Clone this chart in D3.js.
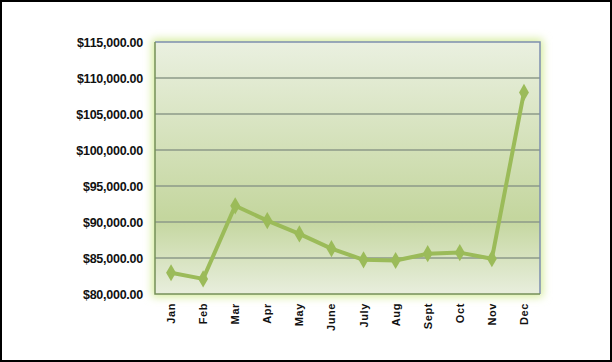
<!DOCTYPE html>
<html>
<head>
<meta charset="utf-8">
<script src="https://cdn.jsdelivr.net/npm/d3@7"></script>
<style>
  body { margin: 0; background: white; }
  svg { display: block; }
</style>
</head>
<body>
<div id="chart"></div>
<script>
const months = ["Jan", "Feb", "Mar", "Apr", "May", "June", "July", "Aug", "Sept", "Oct", "Nov", "Dec"];
const sales = [82950, 82100, 92250, 90200, 88350, 86300, 84750, 84650, 85600, 85750, 84900, 108000];
const yTicks = [80000, 85000, 90000, 95000, 100000, 105000, 110000, 115000];

const width = 612, height = 362;
const plot = { left: 155, right: 540, top: 42, bottom: 294 };

let svg = d3.select("#chart").append("svg")
  .attr("width", width)
  .attr("height", height);

// outer frame
svg.append("rect")
  .attr("x", 1).attr("y", 1)
  .attr("width", width - 2).attr("height", height - 2)
  .attr("fill", "white")
  .attr("stroke", "black")
  .attr("stroke-width", 2);

let defs = svg.append("defs");
let grad = defs.append("linearGradient")
  .attr("id", "bg").attr("x1", 0).attr("y1", 0).attr("x2", 0).attr("y2", 1);
grad.append("stop").attr("offset", "0%").attr("stop-color", "#eaf0e0");
grad.append("stop").attr("offset", "70%").attr("stop-color", "#c4d69e");
grad.append("stop").attr("offset", "100%").attr("stop-color", "#e8eedd");

let glow = defs.append("filter").attr("id", "glow")
  .attr("x", "-10%").attr("y", "-10%").attr("width", "120%").attr("height", "120%");
glow.append("feGaussianBlur").attr("stdDeviation", 4);

let x = d3.scaleBand()
  .domain(months)
  .range([plot.left, plot.right]);

let y = d3.scaleLinear()
  .domain([80000, 115000])
  .range([plot.bottom, plot.top]);

// soft glow round the plot area
svg.append("rect")
  .attr("x", plot.left - 3).attr("y", plot.top - 3)
  .attr("width", plot.right - plot.left + 6)
  .attr("height", plot.bottom - plot.top + 6)
  .attr("fill", "#d6ec9c")
  .attr("filter", "url(#glow)");

svg.append("rect")
  .attr("x", plot.left).attr("y", plot.top)
  .attr("width", plot.right - plot.left)
  .attr("height", plot.bottom - plot.top)
  .attr("fill", "url(#bg)");

// gridlines
svg.append("g")
  .selectAll("line")
  .data(yTicks.slice(1, -1))
  .enter()
  .append("line")
  .attr("x1", plot.left).attr("x2", plot.right)
  .attr("y1", d => y(d)).attr("y2", d => y(d))
  .attr("stroke", "#8c9a88")
  .attr("stroke-width", 1.5);

// plot border: top and right bluish, left and bottom green
svg.append("path")
  .attr("d", `M${plot.left},${plot.top}H${plot.right}V${plot.bottom}`)
  .attr("fill", "none")
  .attr("stroke", "#7d8fae")
  .attr("stroke-width", 1.5);
svg.append("path")
  .attr("d", `M${plot.left},${plot.top}V${plot.bottom}H${plot.right}`)
  .attr("fill", "none")
  .attr("stroke", "#76905a")
  .attr("stroke-width", 1.5);

// y axis labels
let yAxis = d3.axisLeft(y)
  .tickValues(yTicks)
  .tickSize(0)
  .tickPadding(12)
  .tickFormat(d => "$" + d3.format(",.2f")(d));
let gy = svg.append("g")
  .attr("transform", `translate(${plot.left},0)`)
  .call(yAxis);
gy.select(".domain").remove();
gy.selectAll("text")
  .attr("font-family", "Liberation Sans, Arial, sans-serif")
  .attr("font-weight", "bold")
  .attr("font-size", 12.5)
  .attr("letter-spacing", "-0.25px")
  .attr("fill", "#111");

// x axis labels, rotated
let xAxis = d3.axisBottom(x).tickSize(0).tickPadding(0);
let gx = svg.append("g")
  .attr("transform", `translate(0,${plot.bottom})`)
  .call(xAxis);
gx.select(".domain").remove();
gx.selectAll("text")
  .attr("transform", "rotate(-90)")
  .attr("text-anchor", "end")
  .attr("x", -9)
  .attr("y", 0)
  .attr("dy", "0.36em")
  .attr("font-family", "Liberation Sans, Arial, sans-serif")
  .attr("font-weight", "bold")
  .attr("font-size", 11)
  .attr("letter-spacing", "0.6px")
  .attr("fill", "#111");

// line
let line = d3.line()
  .x((d, i) => x(months[i]) + x.bandwidth() / 2)
  .y(d => y(d));

svg.append("path")
  .datum(sales)
  .attr("d", line)
  .attr("fill", "none")
  .attr("stroke", "#9bbb59")
  .attr("stroke-width", 4)
  .attr("stroke-linejoin", "round");

let diamond = d3.symbol().type(d3.symbolDiamond).size(85);
svg.append("g")
  .selectAll("path")
  .data(sales)
  .enter()
  .append("path")
  .attr("d", diamond)
  .attr("transform", (d, i) => `translate(${x(months[i]) + x.bandwidth() / 2},${y(d)})`)
  .attr("fill", "#9bbb59");
</script>
</body>
</html>
